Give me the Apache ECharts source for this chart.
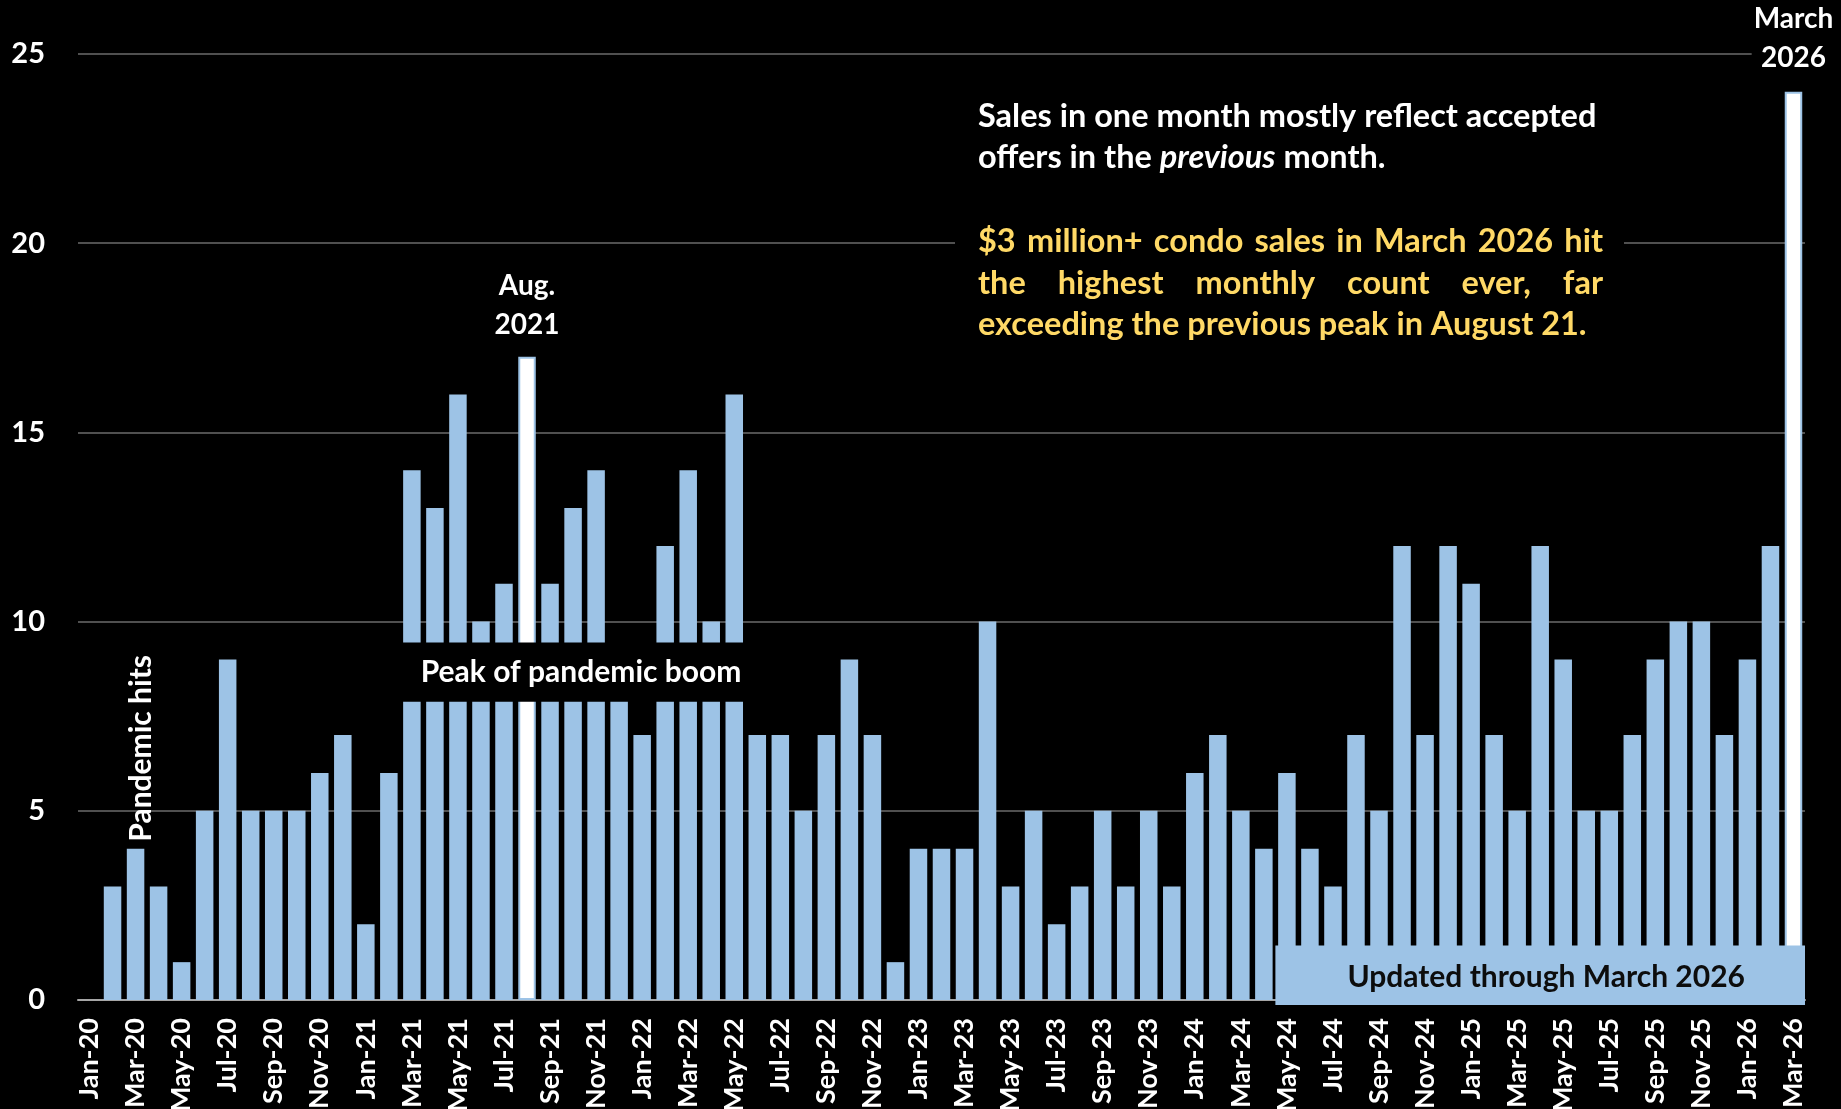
<!DOCTYPE html>
<html><head><meta charset="utf-8">
<script src="https://cdn.jsdelivr.net/npm/echarts@6/dist/echarts.min.js"></script>
<style>html,body{margin:0;padding:0;background:#000;} #c{width:1841px;height:1109px;}</style>
</head><body><div id="c"></div>
<script>
const months = [
 'Jan-20','Feb-20','Mar-20','Apr-20','May-20','Jun-20','Jul-20','Aug-20','Sep-20','Oct-20','Nov-20','Dec-20',
 'Jan-21','Feb-21','Mar-21','Apr-21','May-21','Jun-21','Jul-21','Aug-21','Sep-21','Oct-21','Nov-21','Dec-21',
 'Jan-22','Feb-22','Mar-22','Apr-22','May-22','Jun-22','Jul-22','Aug-22','Sep-22','Oct-22','Nov-22','Dec-22',
 'Jan-23','Feb-23','Mar-23','Apr-23','May-23','Jun-23','Jul-23','Aug-23','Sep-23','Oct-23','Nov-23','Dec-23',
 'Jan-24','Feb-24','Mar-24','Apr-24','May-24','Jun-24','Jul-24','Aug-24','Sep-24','Oct-24','Nov-24','Dec-24',
 'Jan-25','Feb-25','Mar-25','Apr-25','May-25','Jun-25','Jul-25','Aug-25','Sep-25','Oct-25','Nov-25','Dec-25',
 'Jan-26','Feb-26','Mar-26'
];
const sales = [
 0,3,4,3,1,5,9,5,5,5,6,7,
 2,6,14,13,16,10,11,17,11,13,14,9,
 7,12,14,10,16,7,7,5,7,9,7,1,
 4,4,4,10,3,5,2,3,5,3,5,3,
 6,7,5,4,6,4,3,7,5,12,7,12,
 11,7,5,12,9,5,5,7,9,10,10,7,
 9,12,24
];
const highlightMonths = ['Aug-21','Mar-26'];
const highlightLabels = ['Aug.\n2021','March\n2026'];
const yMin = 0, yMax = 25, yStep = 5;
const noteWhite1 = 'Sales in one month mostly reflect accepted';
const noteWhite2 = ['offers in the ','previous',' month.'];
const noteYellow = ['$3 million+ condo sales in March 2026 hit','the highest monthly count ever, far','exceeding the previous peak in August 21.'];
const peakText = 'Peak of pandemic boom';
const pandemicText = 'Pandemic hits';
const updatedText = 'Updated through March 2026';

const FONT = 'Lato, "Open Sans", "DejaVu Sans", sans-serif';
const BLUE = '#9DC3E6';
const YELLOW = '#FFD966';

const data = months.map((m, i) => {
  const h = highlightMonths.indexOf(m);
  if (h < 0) return sales[i];
  return {
    value: sales[i],
    itemStyle: {color: '#ffffff', borderColor: BLUE, borderWidth: 2},
    label: {
      show: true, position: 'top', distance: h === 0 ? 12 : 14,
      formatter: highlightLabels[h], color: '#fff', fontFamily: FONT,
      fontWeight: 'bold', fontSize: 28, lineHeight: 39, align: 'center',
      backgroundColor: '#000', padding: [0, 2, 0, 2]
    }
  };
});

const chart = echarts.init(document.getElementById('c'), null, {renderer: 'canvas'});
const option = {
  backgroundColor: '#000',
  animation: false,
  grid: {left: 78, right: 36, top: 54, bottom: 109, containLabel: false, outerBoundsMode: 'none'},
  xAxis: {
    type: 'category', data: months,
    axisLine: {show: true, lineStyle: {color: '#a6a6a6', width: 2}},
    axisTick: {show: false},
    axisLabel: {interval: 1, rotate: 90, color: '#fff', fontFamily: FONT, fontWeight: 'bold', fontSize: 27, margin: 18}
  },
  yAxis: {
    type: 'value', min: yMin, max: yMax, interval: yStep,
    axisLine: {show: false}, axisTick: {show: false},
    splitLine: {lineStyle: {color: '#6b6b6b', width: 1.5}},
    axisLabel: {color: '#fff', fontFamily: FONT, fontWeight: 'bold', fontSize: 29, margin: 33}
  },
  series: [{
    type: 'bar', data: data, barCategoryGap: '24%',
    itemStyle: {color: BLUE}, z: 2
  }]
};
chart.setOption(option);

// annotations anchored via the chart scales
const px = m => chart.convertToPixel({xAxisIndex: 0}, m);
const py = v => chart.convertToPixel({yAxisIndex: 0}, v);
const band = px(months[1]) - px(months[0]);

const ctx = document.createElement('canvas').getContext('2d');
function tw(t, fs, italic) { ctx.font = (italic ? 'italic ' : '') + 'bold ' + fs + 'px ' + FONT; return ctx.measureText(t).width; }

const elements = [];
// Peak box
const pl = px('Mar-21') - band / 2 - 2, pr = px('May-22') + band / 2 + 2;
const pt = py(9.45), pb = py(7.88);
elements.push({type: 'rect', z: 10, shape: {x: pl, y: pt, width: pr - pl, height: pb - pt}, style: {fill: '#000'}});
elements.push({type: 'text', z: 11, x: (pl + pr) / 2 + 8, y: (pt + pb) / 2, style: {text: peakText, fill: '#fff', font: 'bold 30px ' + FONT, align: 'center', verticalAlign: 'middle'}});
// Pandemic hits
elements.push({type: 'text', z: 11, x: px('Mar-20') + 6, y: py(6.65), rotation: Math.PI / 2, style: {text: pandemicText, fill: '#fff', font: 'bold 30px ' + FONT, align: 'center', verticalAlign: 'middle'}});
// Updated box
const ul = px('May-24') - band / 2, ur = px('Mar-26') + band / 2;
const ut = py(1.44), ub = py(0) + 5;
elements.push({type: 'rect', z: 10, shape: {x: ul, y: ut, width: ur - ul, height: ub - ut}, style: {fill: BLUE}});
elements.push({type: 'text', z: 11, x: (ul + ur) / 2 + 6, y: (ut + ub) / 2 + 2, style: {text: updatedText, fill: '#0d0d0d', font: 'bold 30px ' + FONT, align: 'center', verticalAlign: 'middle'}});

// Note paragraph
const NL = 978, NR = 1603, NW = NR - NL;
const fs = 32.5;
elements.push({type: 'rect', z: 10, shape: {x: 955, y: 82, width: 669, height: 268}, style: {fill: '#000'}});
function lineText(t, y, color) {
  elements.push({type: 'text', z: 11, x: NL, y: y, style: {text: t, fill: color, font: 'bold ' + fs + 'px ' + FONT, verticalAlign: 'middle'}});
}
function justified(t, y, color) {
  const words = t.split(' ');
  const ws = words.map(w => tw(w, fs));
  const total = ws.reduce((a, b) => a + b, 0);
  const gap = (NW - total) / (words.length - 1);
  let x = NL;
  words.forEach((w, i) => {
    elements.push({type: 'text', z: 11, x: x, y: y, style: {text: w, fill: color, font: 'bold ' + fs + 'px ' + FONT, verticalAlign: 'middle'}});
    x += ws[i] + gap;
  });
}
lineText(noteWhite1, 117, '#fff');
elements.push({type: 'text', z: 11, x: NL, y: 158, style: {
  text: '{n|' + noteWhite2[0] + '}{i|' + noteWhite2[1] + '}{n|' + noteWhite2[2] + '}',
  verticalAlign: 'middle',
  rich: {
    n: {fill: '#fff', fontFamily: FONT, fontWeight: 'bold', fontSize: fs},
    i: {fill: '#fff', fontFamily: FONT, fontWeight: 'bold', fontStyle: 'italic', fontSize: fs}
  }
}});
justified(noteYellow[0], 242, YELLOW);
justified(noteYellow[1], 284, YELLOW);
lineText(noteYellow[2], 325, YELLOW);

chart.setOption({graphic: {elements: elements}});
</script>
</body></html>
